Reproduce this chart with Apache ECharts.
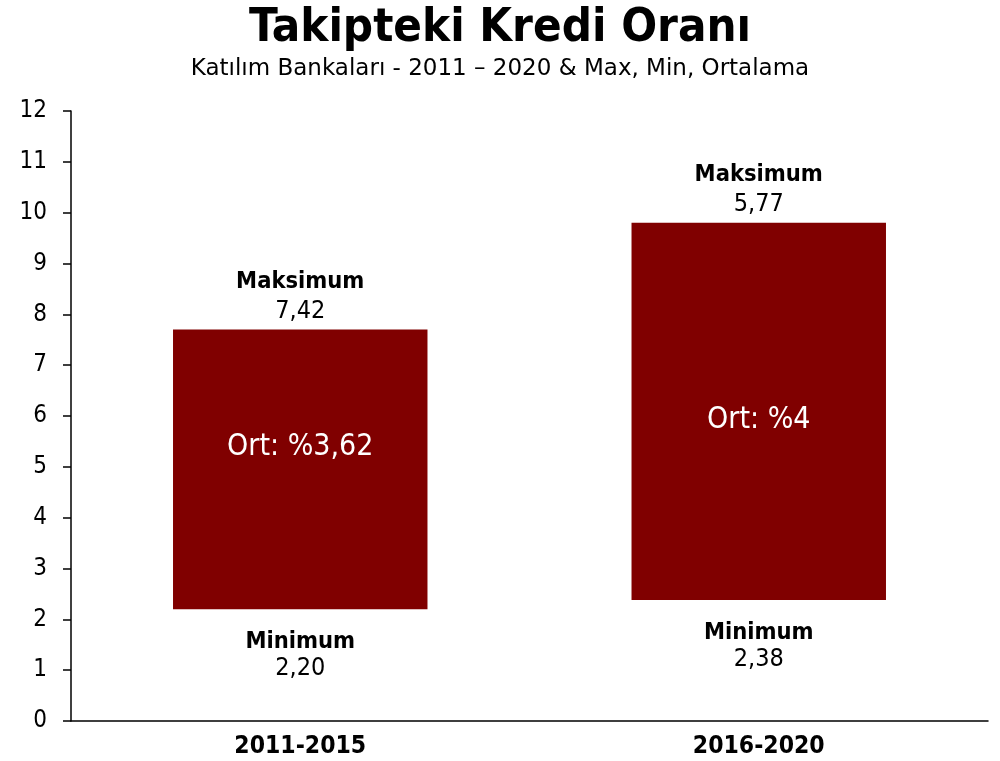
<!DOCTYPE html>
<html>
<head>
<meta charset="utf-8">
<script src="https://cdn.jsdelivr.net/npm/echarts@6/dist/echarts.min.js"></script>
<style>
  html, body { margin: 0; padding: 0; background: #fff; }
  #chart { width: 1000px; height: 761px; }
</style>
</head>
<body>
<div id="chart"></div>
<script>
// dönemler
var categories = ['2011-2015', '2016-2020']
// çubuğun alt ucu (minimum) ve yüksekliği
var minValues = [2.20, 2.38]
var spanValues = [5.50, 7.42]
// etiket metinleri
var maxLabels = ['7,42', '5,77']
var minLabels = ['2,20', '2,38']
var avgLabels = ['%3,62', '%4']
var yTicks = [0, 12, 1]

var FONT = 'DejaVu Sans Condensed'
var myChart = echarts.init(document.getElementById('chart'))

// ortalama etiketinin çubuk ortasına göre kayması
var avgOffsets = [[0, -22], [0, 9]]

var option = {
  animation: false,
  title: {
    left: 'center',
    top: 0,
    text: 'Takipteki Kredi Oranı',
    subtext: 'Katılım Bankaları - 2011 – 2020 & Max, Min, Ortalama',
    itemGap: 6,
    textStyle: { fontFamily: FONT, fontSize: 47, fontWeight: 'bold', color: '#000' },
    subtextStyle: { fontFamily: 'DejaVu Sans', fontSize: 23, color: '#000' }
  },
  grid: { left: 71, right: 12, top: 111, bottom: 40 },
  xAxis: {
    type: 'category',
    data: categories,
    axisLine: { lineStyle: { color: '#000', width: 1.5 } },
    axisTick: { show: false },
    axisLabel: { fontFamily: FONT, fontSize: 24.5, fontWeight: 'bold', color: '#000', margin: 13 }
  },
  yAxis: {
    type: 'value',
    min: yTicks[0],
    max: yTicks[1],
    interval: yTicks[2],
    splitLine: { show: false },
    axisLine: { show: true, lineStyle: { color: '#000', width: 1.5 } },
    axisTick: { show: true, length: 8, lineStyle: { color: '#000', width: 1.5 } },
    axisLabel: { fontFamily: FONT, fontSize: 24, color: '#000', margin: 24 }
  },
  series: [
    {
      name: 'base',
      type: 'bar',
      stack: 'k',
      barWidth: '55.5%',
      itemStyle: { color: 'transparent' },
      label: {
        show: true,
        position: 'insideTop',
        distance: 20,
        formatter: function (p) {
          return '{b|Minimum}\n{v|' + minLabels[p.dataIndex] + '}'
        },
        rich: {
          b: { fontFamily: FONT, fontSize: 23.5, fontWeight: 'bold', color: '#000', lineHeight: 26, align: 'center' },
          v: { fontFamily: FONT, fontSize: 25, color: '#000', lineHeight: 26, align: 'center' }
        }
      },
      data: minValues
    },
    {
      name: 'span',
      type: 'bar',
      stack: 'k',
      itemStyle: { color: '#800000' },
      data: spanValues.map(function (v, i) {
        return {
          value: v,
          label: {
            show: true,
            position: 'inside',
            offset: avgOffsets[i],
            formatter: 'Ort: ' + avgLabels[i],
            fontFamily: FONT,
            fontSize: 30,
            color: '#fff'
          }
        }
      })
    },
    {
      name: 'cap',
      type: 'bar',
      stack: 'k',
      itemStyle: { color: 'transparent' },
      label: {
        show: true,
        position: 'top',
        distance: 4,
        formatter: function (p) {
          return '{b|Maksimum}\n{v|' + maxLabels[p.dataIndex] + '}'
        },
        rich: {
          b: { fontFamily: FONT, fontSize: 23.5, fontWeight: 'bold', color: '#000', lineHeight: 29, align: 'center' },
          v: { fontFamily: FONT, fontSize: 25, color: '#000', lineHeight: 29, align: 'center' }
        }
      },
      data: [0, 0]
    }
  ]
}
myChart.setOption(option, true)
</script>
</body>
</html>
